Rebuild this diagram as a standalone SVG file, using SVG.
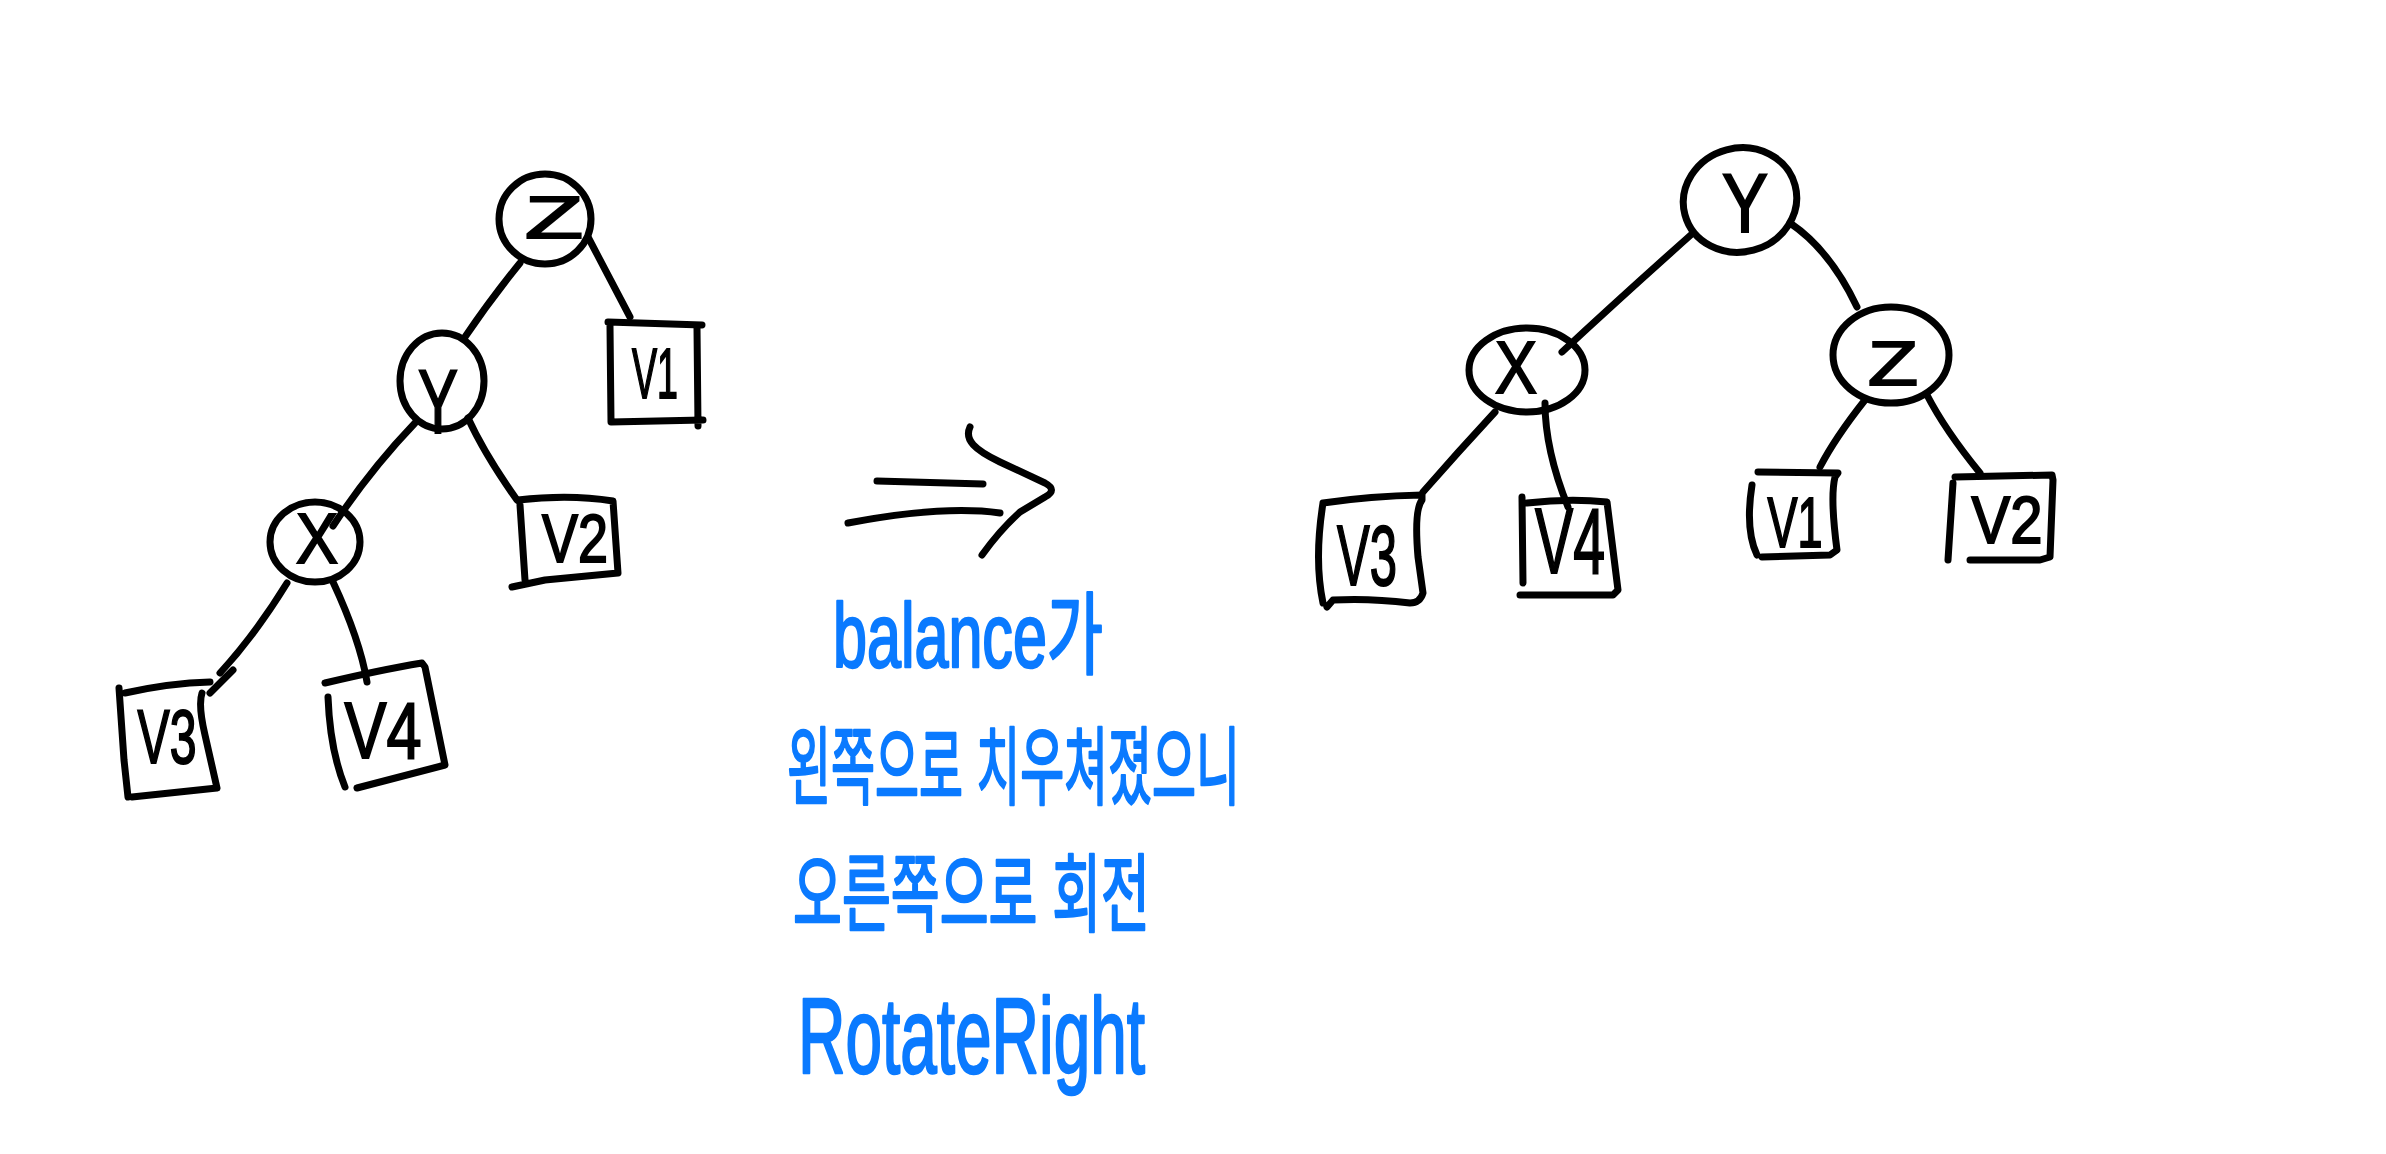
<svg xmlns="http://www.w3.org/2000/svg" width="2386" height="1154" viewBox="0 0 2386 1154">
<style>
.ink{fill:none;stroke:#000;stroke-width:7;stroke-linecap:round;stroke-linejoin:round}
.lbl{font-family:"Liberation Sans",Arial,sans-serif;fill:#000;stroke:#000;stroke-width:2;text-anchor:middle}
.note{font-family:"Liberation Sans","Noto Sans CJK KR",sans-serif;fill:#0a7aff;stroke:#0a7aff;stroke-width:2.5;stroke-linejoin:round}
</style>
<rect width="2386" height="1154" fill="#fff"/>

<!-- connectors -->
<g id="connectors" class="ink">
  <path d="M520,263 Q490,300 465,337"/>
  <path d="M588,237 L630,317"/>
  <path d="M415,423 Q370,470 333,526"/>
  <path d="M468,418 Q485,455 517,500"/>
  <path d="M287,583 Q255,635 220,673 M210,693 L233,670"/>
  <path d="M333,582 Q360,640 367,682"/>
  <path d="M1693,233 Q1620,298 1562,352"/>
  <path d="M1790,223 Q1830,250 1857,307"/>
  <path d="M1495,412 Q1458,452 1423,492"/>
  <path d="M1545,403 Q1545,450 1568,507"/>
  <path d="M1865,400 Q1835,438 1820,467"/>
  <path d="M1927,395 Q1945,430 1980,473"/>
  <!-- transformation arrow -->
  <path d="M877,481 L983,484"/>
  <path d="M848,523 Q943,505 1000,513"/>
  <path d="M970,427 C964,440 975,450 1000,462 L1045,483 Q1058,490 1045,497 L1020,512 Q1000,530 982,555"/>
</g>

<!-- left tree -->
<g id="L-z">
  <ellipse class="ink" cx="545" cy="219" rx="46" ry="45"/>
  <text class="lbl" x="554" y="238" font-size="60" textLength="58" lengthAdjust="spacingAndGlyphs">Z</text>
</g>
<g id="L-y">
  <ellipse class="ink" cx="442" cy="381" rx="42" ry="48"/>
  <text class="lbl" x="438" y="433" font-size="90" textLength="40" lengthAdjust="spacingAndGlyphs">Y</text>
</g>
<g id="L-x">
  <ellipse class="ink" cx="315" cy="542" rx="45" ry="40"/>
  <text class="lbl" x="317" y="563" font-size="71" textLength="42" lengthAdjust="spacingAndGlyphs">X</text>
</g>
<g id="L-v1">
  <path class="ink" d="M608,322 L702,325 M697,328 L698,426 M610,326 L611,422 L703,420"/>
  <text class="lbl" x="655" y="398" font-size="71" textLength="46" lengthAdjust="spacingAndGlyphs">V1</text>
</g>
<g id="L-v2">
  <path class="ink" d="M518,500 Q570,494 613,501 L618,573 L545,580 L512,587 M520,505 L525,580"/>
  <text class="lbl" x="575" y="562" font-size="68" textLength="66" lengthAdjust="spacingAndGlyphs">V2</text>
</g>
<g id="L-v3">
  <path class="ink" d="M125,693 Q170,683 210,682 M202,693 Q198,705 205,735 L217,788 L132,797 M119,688 L124,760 L128,797"/>
  <text class="lbl" x="167" y="763" font-size="76" textLength="59" lengthAdjust="spacingAndGlyphs">V3</text>
</g>
<g id="L-v4">
  <path class="ink" d="M325,683 Q380,670 422,663 L425,667 L445,765 L357,788 M328,697 Q330,750 345,787"/>
  <text class="lbl" x="383" y="758" font-size="80" textLength="77" lengthAdjust="spacingAndGlyphs">V4</text>
</g>

<!-- right tree -->
<g id="R-y">
  <ellipse class="ink" cx="1740" cy="200" rx="57" ry="52" transform="rotate(-15 1740 200)"/>
  <text class="lbl" x="1745" y="232" font-size="84" textLength="46" lengthAdjust="spacingAndGlyphs">Y</text>
</g>
<g id="R-x">
  <ellipse class="ink" cx="1527" cy="370" rx="58" ry="42"/>
  <text class="lbl" x="1516" y="393" font-size="74" textLength="42" lengthAdjust="spacingAndGlyphs">X</text>
</g>
<g id="R-z">
  <ellipse class="ink" cx="1891" cy="355" rx="58" ry="48"/>
  <text class="lbl" x="1893" y="385" font-size="63" textLength="50" lengthAdjust="spacingAndGlyphs">Z</text>
</g>
<g id="R-v3">
  <path class="ink" d="M1323,503 Q1370,496 1422,495 L1422,500 Q1414,510 1418,557 L1423,593 Q1420,603 1410,603 Q1370,598 1333,600 L1327,607 M1323,503 Q1314,560 1323,603"/>
  <text class="lbl" x="1367" y="585" font-size="86" textLength="60" lengthAdjust="spacingAndGlyphs">V3</text>
</g>
<g id="R-v4">
  <path class="ink" d="M1527,503 Q1570,498 1607,502 L1618,590 L1613,595 L1520,595 M1522,497 L1523,583"/>
  <text class="lbl" x="1570" y="573" font-size="92" textLength="70" lengthAdjust="spacingAndGlyphs">V4</text>
</g>
<g id="R-v1">
  <path class="ink" d="M1758,472 L1838,473 L1835,477 Q1830,497 1837,550 L1830,555 L1762,557 M1752,485 Q1745,530 1757,555"/>
  <text class="lbl" x="1795" y="547" font-size="70" textLength="55" lengthAdjust="spacingAndGlyphs">V1</text>
</g>
<g id="R-v2">
  <path class="ink" d="M1955,477 L2052,475 L2053,480 L2050,557 L2040,560 L1970,560 M1953,483 L1948,560"/>
  <text class="lbl" x="2007" y="543" font-size="67" textLength="71" lengthAdjust="spacingAndGlyphs">V2</text>
</g>

<!-- notes -->
<g id="notes">
  <text class="note" x="833" y="667" font-size="90" textLength="270" lengthAdjust="spacingAndGlyphs">balance가</text>
  <text class="note" x="787" y="798" font-size="85" textLength="453" lengthAdjust="spacingAndGlyphs">왼쪽으로 치우쳐졌으니</text>
  <text class="note" x="793" y="925" font-size="85" textLength="357" lengthAdjust="spacingAndGlyphs">오른쪽으로 회전</text>
  <text class="note" x="798" y="1073" font-size="108" textLength="347" lengthAdjust="spacingAndGlyphs">RotateRight</text>
</g>
</svg>
